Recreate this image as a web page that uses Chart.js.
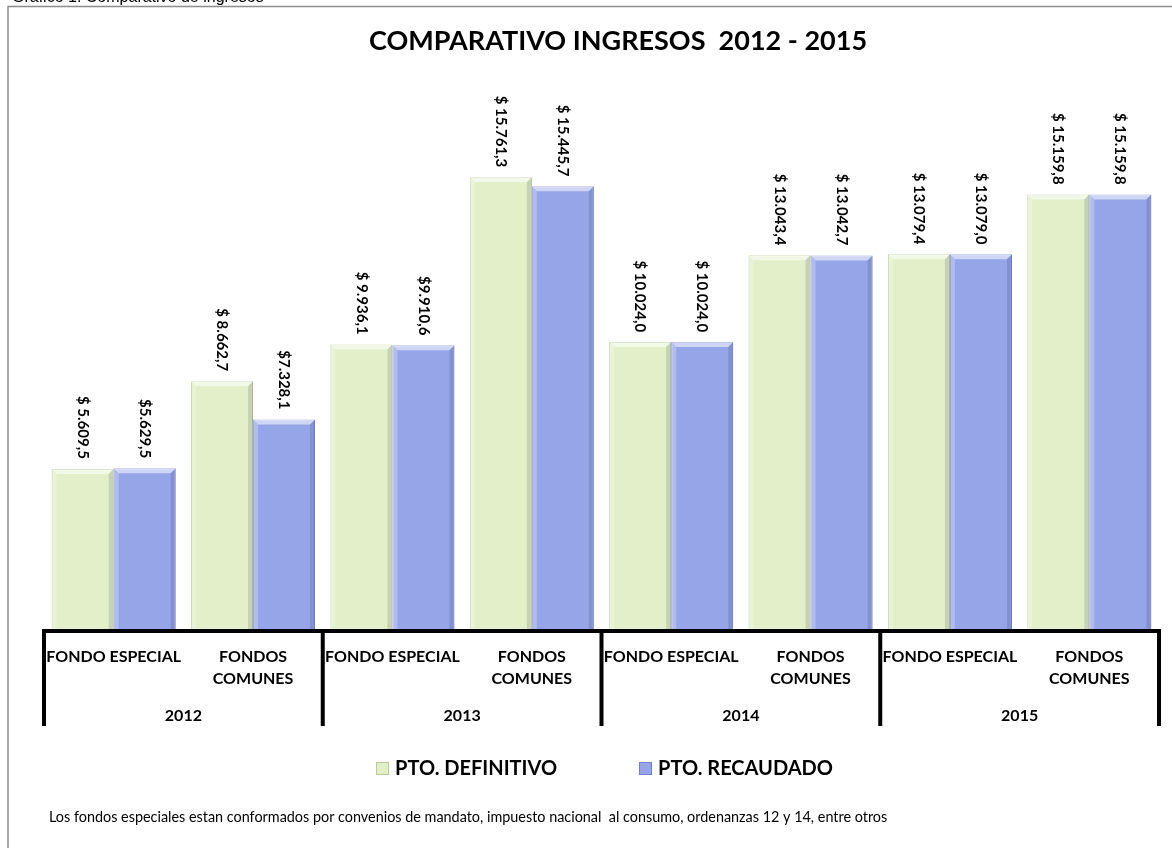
<!DOCTYPE html>
<html>
<head>
<meta charset="utf-8">
<script src="https://cdn.jsdelivr.net/npm/chart.js@4.4.1/dist/chart.umd.min.js"></script>
<style>
  body { margin: 0; background: #fff; }
</style>
</head>
<body>
<canvas id="bar-chart" width="1172" height="848"></canvas>
<script>
// data (millones de pesos)
const categories = [
    ['FONDO ESPECIAL'], ['FONDOS', 'COMUNES'],
    ['FONDO ESPECIAL'], ['FONDOS', 'COMUNES'],
    ['FONDO ESPECIAL'], ['FONDOS', 'COMUNES'],
    ['FONDO ESPECIAL'], ['FONDOS', 'COMUNES']
];
const years = ['2012', '2013', '2014', '2015'];
const definitivo = [5609.5, 8662.7, 9936.1, 15761.3, 10024.0, 13043.4, 13079.4, 15159.8];
const recaudado = [5629.5, 7328.1, 9910.6, 15445.7, 10024.0, 13042.7, 13079.0, 15159.8];
const labelsDef = ['$ 5.609,5', '$ 8.662,7', '$ 9.936,1', '$ 15.761,3', '$ 10.024,0', '$ 13.043,4', '$ 13.079,4', '$ 15.159,8'];
const labelsRec = ['$5.629,5', '$7.328,1', '$9.910,6', '$ 15.445,7', '$ 10.024,0', '$ 13.042,7', '$ 13.079,0', '$ 15.159,8'];

const FONT = "Lato, 'Open Sans', sans-serif";

// title, frame, axis, labels, legend and note drawn on the canvas
const decor = {
    id: 'decor',
    beforeDraw(chart) {
        const ctx = chart.ctx;
        ctx.save();
        ctx.fillStyle = '#fff';
        ctx.fillRect(0, 0, chart.width, chart.height);
        ctx.strokeStyle = '#8c8c8c';
        ctx.lineWidth = 1.5;
        ctx.strokeRect(8, 6.5, 1200, 900);
        ctx.fillStyle = '#000';
        ctx.font = "16px 'Liberation Sans', Arial, sans-serif";
        ctx.textBaseline = 'alphabetic';
        ctx.fillText('Gráfico 1. Comparativo de ingresos', 12, 2);
        ctx.font = 'bold 27px ' + FONT;
        ctx.textAlign = 'center';
        ctx.fillText('COMPARATIVO INGRESOS  2012 - 2015', 618, 50);
        ctx.restore();
    },
    afterDatasetsDraw(chart) {
        const ctx = chart.ctx;
        const x = chart.scales.x;
        const step = x.getPixelForValue(1) - x.getPixelForValue(0);
        ctx.save();

        // bevel look on the bars
        chart.data.datasets.forEach((ds, di) => {
            chart.getDatasetMeta(di).data.forEach(bar => {
                const l = bar.x - bar.width / 2, r = bar.x + bar.width / 2;
                const t = bar.y, b = bar.base, e = 5;
                ctx.fillStyle = 'rgba(255,255,255,0.55)';
                ctx.beginPath();
                ctx.moveTo(l, t); ctx.lineTo(r, t); ctx.lineTo(r - e, t + e); ctx.lineTo(l + e, t + e);
                ctx.closePath(); ctx.fill();
                ctx.fillStyle = 'rgba(255,255,255,0.25)';
                ctx.beginPath();
                ctx.moveTo(l, t); ctx.lineTo(l + e, t + e); ctx.lineTo(l + e, b); ctx.lineTo(l, b);
                ctx.closePath(); ctx.fill();
                ctx.fillStyle = 'rgba(0,0,40,0.12)';
                ctx.beginPath();
                ctx.moveTo(r, t); ctx.lineTo(r - e, t + e); ctx.lineTo(r - e, b); ctx.lineTo(r, b);
                ctx.closePath(); ctx.fill();
            });
        });

        // value labels, rotated
        ctx.fillStyle = '#000';
        ctx.font = 'bold 15px ' + FONT;
        ctx.textAlign = 'right';
        ctx.textBaseline = 'middle';
        [labelsDef, labelsRec].forEach((labs, di) => {
            chart.getDatasetMeta(di).data.forEach((bar, i) => {
                ctx.save();
                ctx.translate(bar.x, bar.y - 10);
                ctx.rotate(Math.PI / 2);
                ctx.fillText(labs[i], 0, 0);
                ctx.restore();
            });
        });

        // category axis with two levels
        const yAxis = chart.chartArea.bottom + 1;
        const left = x.getPixelForValue(0) - step / 2;
        const right = x.getPixelForValue(categories.length - 1) + step / 2;
        ctx.strokeStyle = '#000';
        ctx.lineWidth = 4;
        ctx.beginPath();
        ctx.moveTo(left - 2, yAxis);
        ctx.lineTo(right + 2, yAxis);
        for (let g = 0; g <= years.length; g++) {
            const px = left + g * step * 2;
            ctx.moveTo(px, yAxis - 2);
            ctx.lineTo(px, 726);
        }
        ctx.stroke();

        ctx.font = 'bold 16px ' + FONT;
        ctx.textAlign = 'center';
        ctx.textBaseline = 'alphabetic';
        categories.forEach((lines, i) => {
            const px = x.getPixelForValue(i);
            lines.forEach((s, k) => ctx.fillText(s, px, 662 + k * 22));
        });
        years.forEach((yr, g) => {
            const px = (x.getPixelForValue(g * 2) + x.getPixelForValue(g * 2 + 1)) / 2;
            ctx.fillText(yr, px, 721);
        });

        // legend
        const items = [[376, 395], [639, 658]];
        ctx.font = 'bold 20px ' + FONT;
        ctx.textAlign = 'left';
        chart.data.datasets.forEach((ds, di) => {
            const [bx, tx] = items[di];
            ctx.fillStyle = ds.backgroundColor;
            ctx.fillRect(bx, 762, 12, 12);
            ctx.strokeStyle = ds.borderColor;
            ctx.lineWidth = 1;
            ctx.strokeRect(bx + 0.5, 762.5, 12, 12);
            ctx.fillStyle = '#000';
            ctx.fillText(ds.label, tx, 775);
        });

        // note
        ctx.font = '14.4px ' + FONT;
        ctx.fillText('Los fondos especiales estan conformados por convenios de mandato, impuesto nacional  al consumo, ordenanzas 12 y 14, entre otros', 49, 822);
        ctx.restore();
    }
};

new Chart(document.getElementById('bar-chart'), {
    type: 'bar',
    data: {
        labels: categories,
        datasets: [{
            label: 'PTO. DEFINITIVO',
            data: definitivo,
            backgroundColor: '#E2EFC9',
            borderColor: '#B9C99A',
            borderWidth: 1
        }, {
            label: 'PTO. RECAUDADO',
            data: recaudado,
            backgroundColor: '#96A5E8',
            borderColor: '#7282C8',
            borderWidth: 1
        }]
    },
    options: {
        responsive: false,
        animation: false,
        layout: { padding: { left: 44, right: 13, top: 113, bottom: 218 } },
        datasets: { bar: { categoryPercentage: 0.89, barPercentage: 1 } },
        scales: {
            x: { display: false },
            y: { display: false, min: 0, max: 18000 }
        },
        plugins: {
            legend: { display: false },
            title: { display: false },
            tooltip: { enabled: false }
        }
    },
    plugins: [decor]
});
</script>
</body>
</html>
